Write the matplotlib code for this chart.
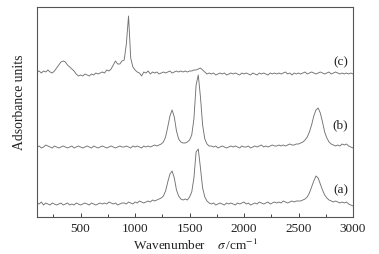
import numpy as np
import matplotlib
matplotlib.use("Agg")
import matplotlib.pyplot as plt
from matplotlib.ticker import MultipleLocator

plt.rcParams['font.family'] = ['Liberation Serif', 'DejaVu Serif']
plt.rcParams['mathtext.fontset'] = 'stix'

# wavenumber grid, 100..3000 cm-1, step 20
wavenumber = np.arange(100, 3001, 20)

# spectra (relative intensity above each baseline)
spec_a = [
    1, 0, 2, -1, 1, 0, -1, 1, 0, -1,
    0, 1, -1, 0, 1, -1, 0, -1, 1, 0,
    -1, 0, 1, 0, -1, 1, 0, -1, 0, 1,
    0, 1, 0, 2, 1, 0, 1, -1, 0, 1,
    1, 0, 2, 1, 0, 2, 1, 3, 2, 1,
    2, 3, 2, 4, 3, 4, 5, 6, 8, 13,
    22, 30, 33, 26, 14, 8, 5, 4, 5, 4,
    7, 12, 26, 52, 55, 36, 16, 7, 3, 1,
    0, 1, -1, 0, 1, 0, -1, 1, 0, 1,
    0, -1, 1, 0, 1, 2, 0, 1, -1, 0,
    1, 0, 2, 1, 0, 1, 2, 0, 1, 2,
    1, 2, 1, 3, 2, 1, 2, 3, 2, 3,
    3, 3, 4, 5, 7, 11, 17, 23, 28, 26,
    20, 14, 9, 6, 4, 3, 2, 3, 2, 1,
    2, 1, 2, 0, -1, -2,
]
spec_b = [
    0, 1, -1, 0, 2, 1, 0, -1, 1, 0,
    -1, 0, 1, 0, -1, 0, 1, -1, 0, 1,
    0, -1, 0, 1, 0, -1, 1, 0, -1, 0,
    1, 0, -1, 0, 1, 0, -1, 0, 1, 0,
    0, 1, 0, -1, 1, 0, 1, 0, -1, 1,
    0, 1, 0, 1, 2, 1, 2, 3, 5, 10,
    20, 31, 37, 30, 16, 8, 5, 4, 4, 5,
    7, 12, 28, 62, 72, 50, 22, 8, 3, 1,
    1, 0, 1, -1, 0, 1, 0, -1, 0, 1,
    0, 1, 0, -1, 1, 0, 0, 1, -1, 0,
    1, 0, 1, 2, 0, 1, 0, 1, 2, 1,
    1, 2, 1, 2, 1, 2, 3, 2, 2, 3,
    3, 4, 5, 7, 10, 15, 22, 31, 37, 39,
    34, 25, 15, 9, 5, 3, 2, 1, 2, 1,
    3, 2, 3, 1, 0, -1,
]
spec_c = [
    2, 3, 1, 3, 2, 4, 2, 1, 3, 6,
    9, 12, 13, 12, 9, 7, 5, 3, 0, -2,
    -1, -2, 0, -1, -2, 0, -1, 1, 0, 1,
    2, 1, 4, 3, 5, 9, 13, 10, 10, 13,
    14, 30, 58, 16, 7, 4, 2, 1, -2, 2,
    1, 3, 0, 2, 1, 2, 0, 1, 2, 1,
    2, 3, 1, 2, 3, 2, 3, 2, 3, 2,
    3, 3, 4, 4, 5, 6, 4, 2, 0, 1,
    0, 1, -1, 0, 1, 0, 1, -1, 0, 1,
    0, 1, 0, -1, 1, 0, 1, 0, -1, 1,
    0, -1, 1, 0, 1, 0, -1, 1, 0, 1,
    0, 1, 0, 1, 2, 0, 1, -1, 1, 0,
    1, 0, 1, 2, 0, 1, 2, 1, 0, 1,
    2, 1, 0, 1, 2, 0, 1, 2, 1, 0,
    1, 0, 1, 0, 1, 0,
]
spectra = [spec_a, spec_b, spec_c]
labels = ['(a)', '(b)', '(c)']
offsets = [13, 70, 143]
label_y = [28, 93, 156]

fig = plt.figure(figsize=(3.79, 2.55), dpi=100)
ax = fig.add_axes([37/379, 1-218/255, 316/379, 210/255])

for s, off, lab, ly in zip(spectra, offsets, labels, label_y):
    ax.plot(wavenumber, np.array(s) + off, color='#727272', lw=0.65)
    ax.text(2885, ly, lab, fontsize=9.5, ha='center', va='center', color='#222222')

ax.set_xlim(100, 3000)
ax.set_ylim(0, 210)
ax.set_yticks([])
ax.xaxis.set_major_locator(MultipleLocator(500))
ax.xaxis.set_minor_locator(MultipleLocator(250))
ax.tick_params(axis='x', which='major', direction='in', length=3, width=0.6,
               labelsize=9.5, pad=3.5, colors='#222222')
ax.tick_params(axis='x', which='minor', direction='in', length=2, width=0.6,
               colors='#222222')
for sp in ax.spines.values():
    sp.set_color('#555555')
    sp.set_linewidth(0.8)

ax.set_xlabel(r'Wavenumber    $\sigma\,$/cm$^{-1}$', fontsize=9.5, labelpad=2, color='#222222')
ax.set_ylabel('Adsorbance units', fontsize=9.8, color='#222222')
ax.yaxis.set_label_coords(-0.035, 0.55)

fig.savefig('out.png', dpi=100)
